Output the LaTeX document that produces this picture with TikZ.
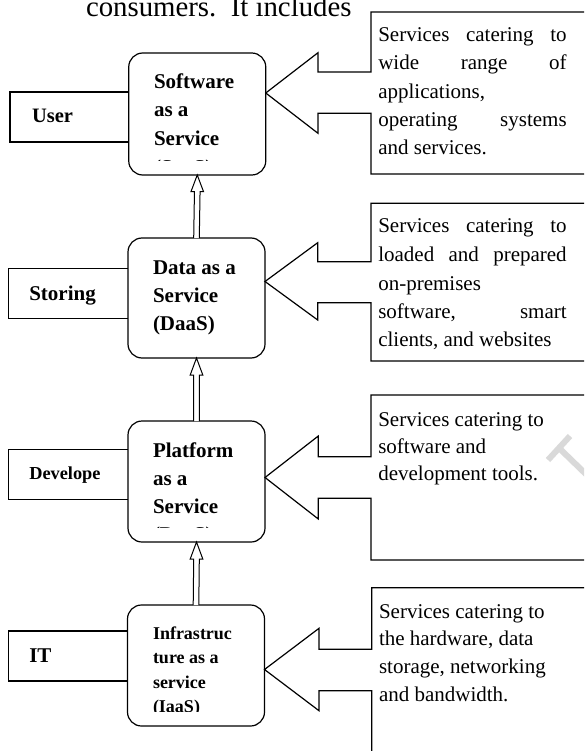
\documentclass[tikz,border=0pt]{standalone}
\usepackage{fontspec}
\setmainfont{Liberation Serif}
\usetikzlibrary{calc}
\begin{document}
\begin{tikzpicture}[x=1pt,y=-1pt,
  every node/.style={inner sep=0pt, outer sep=0pt},
  ln/.style={line width=1.2pt, line join=miter},
  thin arrow/.style={line width=1pt, line join=miter, fill=white},
  svc/.style={draw, line width=1.2pt, rounded corners=14pt, fill=white, minimum width=137pt, minimum height=121pt},
  lbl/.style={draw, line width=1.2pt, fill=white, minimum height=50pt},
  btxt/.style={anchor=base west, font=\fontsize{21}{25}\selectfont\bfseries},
  bsmall/.style={anchor=base west, font=\fontsize{18}{22}\selectfont\bfseries},
  dtxt/.style={anchor=base west, font=\fontsize{21}{25}\selectfont},
  wm/.style={draw=gray!30, line width=6pt}
]
\useasboundingbox (0,0) rectangle (584,751);
\clip (0,0) rectangle (584,751);

% header text
\node[anchor=base west, font=\fontsize{28.8}{32}\selectfont] (hdr) at (86,17) {consumers.\ \ It includes};

% left label boxes
\node[lbl, minimum width=125pt] (user) at (72.5,117) {};
\node[lbl, minimum width=127pt] (storing) at (71.8,293.5) {};
\node[lbl, minimum width=127pt] (develope) at (71.8,474.5) {};
\node[lbl, minimum width=127pt] (it) at (71.8,656) {};

% service boxes
\node[svc, minimum height=122pt] (saas) at (197.25,114) {};
\node[svc, minimum height=120pt] (daas) at (196.5,298) {};
\node[svc] (paas) at (196.5,481.5) {};
\node[svc] (iaas) at (196,665.5) {};

% callout tips
\coordinate (t1) at (saas.east |- 0,93);
\coordinate (t2) at (daas.east |- 0,281.5);
\coordinate (t3) at (paas.east |- 0,477.5);
\coordinate (t4) at (iaas.east |- 0,669.5);

% callouts
\draw[ln, fill=white] (t1) -- (318,52.7) -- (318,72) -- (371,72) -- (371,12) -- (600,12) -- (600,174)
  -- (371,174) -- (371,113.3) -- (318,113.3) -- (318,133.3) -- cycle;
\draw[ln, fill=white] (t2) -- (317.7,242.7) -- (317.7,261.7) -- (371,261.7) -- (371,203.3) -- (600,203.3) -- (600,361)
  -- (371,361) -- (371,302.7) -- (317.7,302.7) -- (317.7,320) -- cycle;
\draw[ln, fill=white] (t3) -- (318.3,436) -- (318.3,456.7) -- (371,456.7) -- (371,395) -- (600,395) -- (600,560)
  -- (371,560) -- (371,498.3) -- (318.3,498.3) -- (318.3,519) -- cycle;
\draw[ln, fill=white] (t4) -- (319,628.3) -- (319,649.3) -- (371.7,649.3) -- (371.7,587.7) -- (600,587.7) -- (600,770)
  -- (371.7,770) -- (371.7,690.7) -- (319,690.7) -- (319,710.7) -- cycle;

% watermark fragment
\draw[wm] (548,460) -- (570,436);
\draw[wm] (559,448) -- (592,480);

% vertical hollow arrows
\draw[thin arrow] ($(daas.north)+(-2.8,0)$) -- ($(saas.south)+(-2.8,16.7)$) -- ($(saas.south)+(-6.3,16.7)$)
  -- (saas.south) -- ($(saas.south)+(6.3,16.7)$) -- ($(saas.south)+(2.8,16.7)$) -- ($(daas.north)+(2.8,0)$);
\draw[thin arrow] ($(paas.north)+(-2.8,0)$) -- ($(daas.south)+(-2.8,17)$) -- ($(daas.south)+(-6.3,17)$)
  -- (daas.south) -- ($(daas.south)+(6.3,17)$) -- ($(daas.south)+(2.8,17)$) -- ($(paas.north)+(2.8,0)$);
\draw[thin arrow] ($(iaas.north)+(-2.8,0)$) -- ($(paas.south)+(-2.8,17)$) -- ($(paas.south)+(-6.3,17)$)
  -- (paas.south) -- ($(paas.south)+(6.3,17)$) -- ($(paas.south)+(2.8,17)$) -- ($(iaas.north)+(2.8,0)$);

% label texts
\node[btxt, font=\fontsize{20.5}{25}\selectfont\bfseries] (usert) at (32,123) {User};
\node[btxt] (storingt) at (29.3,300) {Storing};
\node[bsmall, font=\fontsize{18.3}{22}\selectfont\bfseries] (developet) at (29.3,479) {Develope};
\node[btxt] (itt) at (29.3,662) {IT};

% service texts
\begin{scope}
  \clip (129,53) rectangle (266,161);
  \node[btxt] (s1) at (154,89) {Software};
  \node[btxt] (s2) at (154,117) {as a};
  \node[btxt] (s3) at (154,146) {Service};
  \node[btxt] (s4) at (154,174.5) {(SaaS)};
\end{scope}
\node[btxt] (d1) at (153,274) {Data as a};
\node[btxt] (d2) at (153,302) {Service};
\node[btxt] (d3) at (153,330) {(DaaS)};
\begin{scope}
  \clip (128,421) rectangle (266,527.5);
  \node[btxt] (p1) at (153,457) {Platform};
  \node[btxt] (p2) at (153,485) {as a};
  \node[btxt] (p3) at (153,513) {Service};
  \node[btxt] (p4) at (153,541.5) {(PaaS)};
\end{scope}
\begin{scope}
  \clip (128,605) rectangle (266,711.5);
  \node[bsmall] (i1) at (153,639) {Infrastruc};
  \node[bsmall] (i2) at (153,663.5) {ture as a};
  \node[bsmall] (i3) at (153,688) {service};
  \node[bsmall] (i4) at (153,712.5) {(IaaS)};
\end{scope}

% callout texts
\node[dtxt] (c11) at (378.3,42) {\makebox[188.4pt][s]{Services catering to}};
\node[dtxt] (c12) at (378.3,70) {\makebox[188.4pt][s]{wide range of}};
\node[dtxt] (c13) at (378.3,98.3) {applications,};
\node[dtxt] (c14) at (378.3,126.7) {\makebox[188.4pt][s]{operating systems}};
\node[dtxt] (c15) at (378.3,155) {and services.};

\node[dtxt] (c21) at (378.3,233) {\makebox[188.4pt][s]{Services catering to}};
\node[dtxt] (c22) at (378.3,261.7) {\makebox[188.4pt][s]{loaded and prepared}};
\node[dtxt] (c23) at (378.3,290) {on-premises};
\node[dtxt] (c24) at (378.3,318.3) {\makebox[188.4pt][s]{software, smart}};
\node[dtxt] (c25) at (378.3,346.7) {clients, and websites};

\node[dtxt] (c31) at (378.3,426) {Services catering to};
\node[dtxt] (c32) at (378.3,453.3) {software and};
\node[dtxt] (c33) at (378.3,480.7) {development tools.};

\node[dtxt] (c41) at (379,618.3) {Services catering to};
\node[dtxt] (c42) at (379,645.7) {the hardware, data};
\node[dtxt] (c43) at (379,673.3) {storage, networking};
\node[dtxt] (c44) at (379,701.7) {and bandwidth.};
\end{tikzpicture}
\end{document}
